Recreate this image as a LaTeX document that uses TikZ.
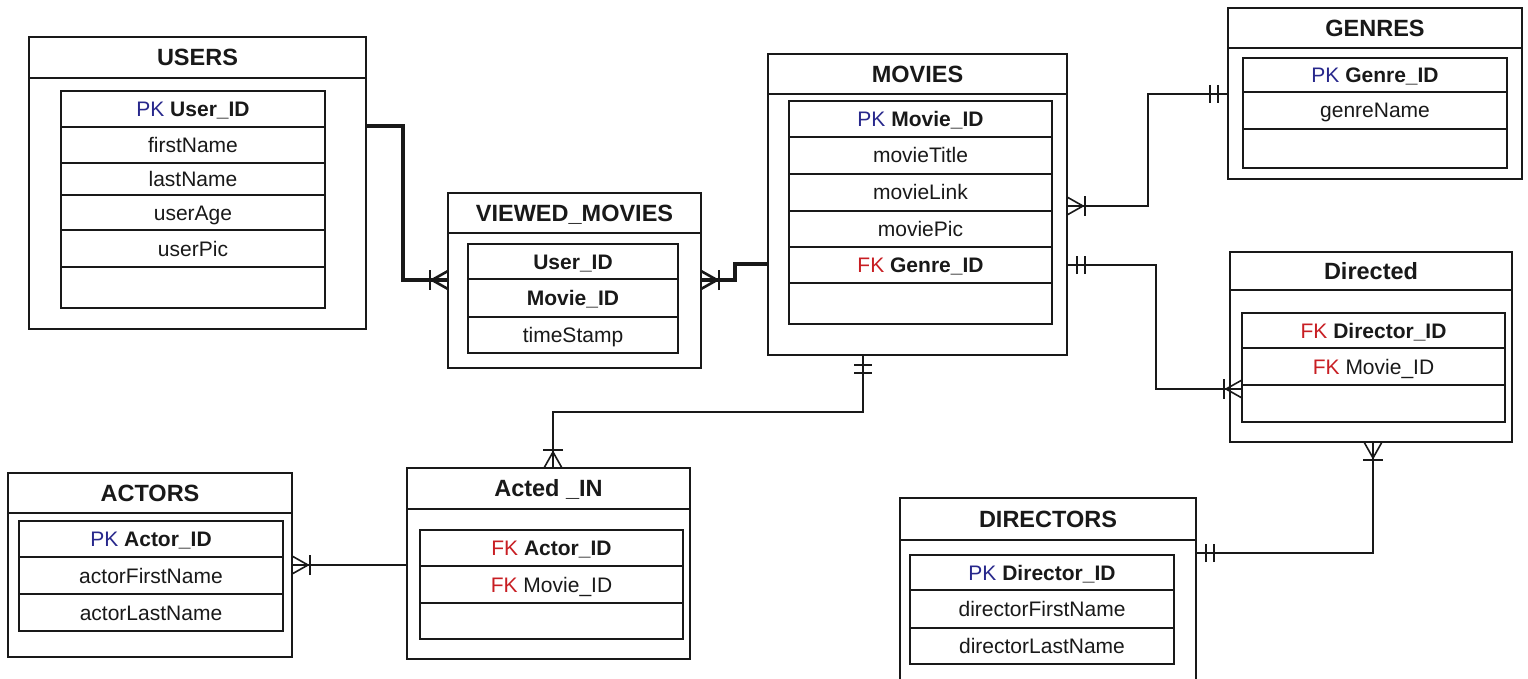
\documentclass[tikz,border=0pt]{standalone}
\usepackage{fontspec}
\setmainfont{Liberation Sans}
\usetikzlibrary{calc}
\definecolor{pkblue}{RGB}{40,40,140}
\definecolor{fkred}{RGB}{200,30,35}
\definecolor{ink}{RGB}{25,25,25}
\tikzset{
 boxline/.style={draw=ink, line width=1.8pt},
 ebox/.style={boxline, rectangle, inner sep=0pt, outer sep=0pt, anchor=north west},
 rowbox/.style={boxline, rectangle, inner sep=0pt, outer sep=0pt, anchor=north west,
   font=\fontsize{21}{25}\selectfont, text=ink, text height=15pt, text depth=0pt},
 etitle/.style={inner sep=0pt, font=\fontsize{23.5}{28}\selectfont\bfseries, text=ink,
   text height=16.8pt, text depth=0pt},
 conn/.style={draw=ink, line width=1.6pt},
 thickconn/.style={draw=ink, line width=3.2pt},
 thickmark/.style={draw=ink, line width=2.6pt},
}
\newcommand{\PK}{\textcolor{pkblue}{PK}\ }
\newcommand{\FK}{\textcolor{fkred}{FK}\ }
\newcommand{\entity}[7]{%
 \node[ebox, minimum width={(#4-#2)*1pt}, minimum height={(#5-#3)*1pt}] (#1) at (#2,#3) {};
 \draw[boxline] (#2,#6) -- (#4,#6);
 \node[etitle] (#1-t) at ({(#2+#4)/2},{(#3+#6)/2}) {#7};}
\newcommand{\erow}[6]{%
 \node[rowbox, minimum width={(#3-#2)*1pt}, minimum height={(#5-#4)*1pt}] (#1) at (#2,#4) {#6};}
\newcommand{\crowmany}[4][conn]{%
 \draw[#1] ($(#2)+({-9*(#4)},{9*(#3)})$) -- ($(#2)+({16*(#3)},{16*(#4)})$) -- ($(#2)+({9*(#4)},{-9*(#3)})$);
 \draw[#1] ($(#2)+({18*(#3)-10*(#4)},{18*(#4)+10*(#3)})$) -- ($(#2)+({18*(#3)+10*(#4)},{18*(#4)-10*(#3)})$);}
\newcommand{\onlyone}[4][conn]{%
 \draw[#1] ($(#2)+({10*(#3)-9*(#4)},{10*(#4)+9*(#3)})$) -- ($(#2)+({10*(#3)+9*(#4)},{10*(#4)-9*(#3)})$);
 \draw[#1] ($(#2)+({18*(#3)-9*(#4)},{18*(#4)+9*(#3)})$) -- ($(#2)+({18*(#3)+9*(#4)},{18*(#4)-9*(#3)})$);}
\begin{document}
\begin{tikzpicture}[x=1pt,y=-1pt]
\useasboundingbox (0,0) rectangle (1528,679);
\clip (0,0) rectangle (1528,679);
\fill[white] (0,0) rectangle (1528,679);

% ---------- entities ----------
\entity{users}{29}{37}{366}{329}{78}{USERS}
\erow{users-1}{61}{325}{91}{127}{\PK\textbf{User\_ID}}
\erow{users-2}{61}{325}{127}{163}{firstName}
\erow{users-3}{61}{325}{163}{195}{lastName}
\erow{users-4}{61}{325}{195}{230}{userAge}
\erow{users-5}{61}{325}{230}{267}{userPic}
\erow{users-6}{61}{325}{267}{308}{}

\entity{viewed}{448}{193}{701}{368}{233}{VIEWED\_MOVIES}
\erow{viewed-1}{468}{678}{244}{279}{\textbf{User\_ID}}
\erow{viewed-2}{468}{678}{279}{317}{\textbf{Movie\_ID}}
\erow{viewed-3}{468}{678}{317}{353}{timeStamp}

\entity{movies}{768}{54}{1067}{355}{94}{MOVIES}
\erow{movies-1}{789}{1052}{101}{137}{\PK\textbf{Movie\_ID}}
\erow{movies-2}{789}{1052}{137}{174}{movieTitle}
\erow{movies-3}{789}{1052}{174}{211}{movieLink}
\erow{movies-4}{789}{1052}{211}{247}{moviePic}
\erow{movies-5}{789}{1052}{247}{283}{\FK\textbf{Genre\_ID}}
\erow{movies-6}{789}{1052}{283}{324}{}

\entity{genres}{1228}{8}{1522}{179}{48}{GENRES}
\erow{genres-1}{1243}{1507}{58}{92}{\PK\textbf{Genre\_ID}}
\erow{genres-2}{1243}{1507}{92}{129}{genreName}
\erow{genres-3}{1243}{1507}{129}{168}{}

\entity{directed}{1230}{252}{1512}{442}{290}{Directed}
\erow{directed-1}{1242}{1505}{313}{348}{\FK\textbf{Director\_ID}}
\erow{directed-2}{1242}{1505}{348}{385}{\FK Movie\_ID}
\erow{directed-3}{1242}{1505}{385}{422}{}

\entity{directors}{900}{498}{1196}{700}{540}{DIRECTORS}
\erow{directors-1}{910}{1174}{555}{590}{\PK\textbf{Director\_ID}}
\erow{directors-2}{910}{1174}{590}{628}{directorFirstName}
\erow{directors-3}{910}{1174}{628}{664}{directorLastName}

\entity{actors}{8}{473}{292}{657}{513}{ACTORS}
\erow{actors-1}{19}{283}{521}{557}{\PK\textbf{Actor\_ID}}
\erow{actors-2}{19}{283}{557}{594}{actorFirstName}
\erow{actors-3}{19}{283}{594}{631}{actorLastName}

\entity{acted}{407}{468}{690}{659}{509}{Acted \_IN}
\erow{acted-1}{420}{683}{530}{566}{\FK\textbf{Actor\_ID}}
\erow{acted-2}{420}{683}{566}{603}{\FK Movie\_ID}
\erow{acted-3}{420}{683}{603}{639}{}

% ---------- connector end points ----------
\coordinate (u-out) at ($(users.north east)+(0,89)$);
\coordinate (vm-in) at ($(viewed.north west)+(0,87)$);
\coordinate (vm-out) at ($(viewed.north east)+(0,87)$);
\coordinate (mv-in) at ($(movies.north west)+(0,210)$);
\coordinate (mv-g) at ($(movies.north east)+(0,152)$);
\coordinate (g-in) at ($(genres.north west)+(0,86)$);
\coordinate (mv-d) at ($(movies.north east)+(0,211)$);
\coordinate (d-in) at ($(directed.north west)+(12,137)$);
\coordinate (mv-a) at ($(movies.south west)+(95,0)$);
\coordinate (a-in) at ($(acted.north west)+(146,0)$);
\coordinate (a-out) at ($(acted.north west)+(0,97)$);
\coordinate (ac-in) at ($(actors.north east)+(0,92)$);
\coordinate (d-out) at ($(directed.south west)+(143,0)$);
\coordinate (dr-in) at ($(directors.north east)+(0,55)$);

% ---------- connectors ----------
\draw[thickconn] (u-out) -- ++(37,0) |- (vm-in);
\draw[thickconn] (vm-out) -- ++(34,0) |- (mv-in);
\draw[conn] (mv-g) -- ++(81,0) |- (g-in);
\draw[conn] (mv-d) -- ++(89,0) |- (d-in);
\draw[conn] (mv-a) -- ++(0,57) -| (a-in);
\draw[conn] (a-out) -- (ac-in);
\draw[conn] (d-out) |- (dr-in);

% ---------- cardinality marks ----------
\crowmany[thickmark]{vm-in}{-1}{0}
\crowmany[thickmark]{vm-out}{1}{0}
\crowmany{mv-g}{1}{0}
\onlyone{g-in}{-1}{0}
\onlyone{mv-d}{1}{0}
\crowmany{d-in}{-1}{0}
\onlyone{mv-a}{0}{1}
\crowmany{a-in}{0}{-1}
\crowmany{ac-in}{1}{0}
\crowmany{d-out}{0}{1}
\onlyone{dr-in}{1}{0}
\end{tikzpicture}
\end{document}
